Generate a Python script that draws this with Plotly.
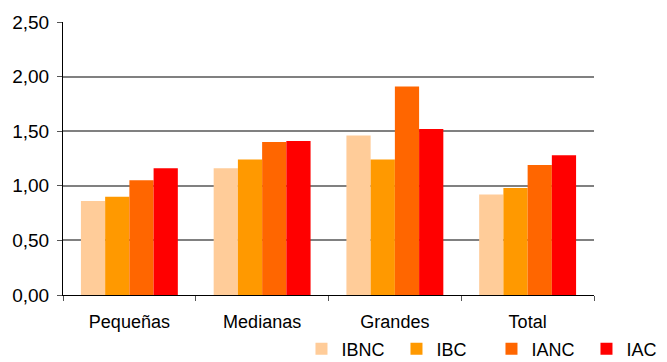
import plotly.graph_objects as go

categories = ["Pequeñas", "Medianas", "Grandes", "Total"]
series_names = ["IBNC", "IBC", "IANC", "IAC"]
ibnc = [0.86, 1.16, 1.46, 0.92]
ibc = [0.90, 1.24, 1.24, 0.98]
ianc = [1.05, 1.40, 1.91, 1.19]
iac = [1.16, 1.41, 1.52, 1.28]
colors = ["#FFCC99", "#FF9900", "#FF6600", "#FF0000"]
y_ticks = [0, 0.5, 1.0, 1.5, 2.0, 2.5]

fig = go.Figure()
for name, vals, col in zip(series_names, [ibnc, ibc, ianc, iac], colors):
    fig.add_trace(go.Bar(x=categories, y=vals, name=name,
                         marker=dict(color=col, line=dict(width=0))))

font_family = "Liberation Sans, Arial, sans-serif"
fig.update_layout(
    width=667, height=362,
    margin=dict(l=63, r=73, t=22, b=67, autoexpand=False),
    paper_bgcolor="white", plot_bgcolor="white",
    barmode="group", bargap=0.27, bargroupgap=0,
    separators=",.",
    font=dict(family=font_family, size=18, color="#000000"),
    showlegend=True,
    legend=dict(orientation="h", xref="container", x=0.452, xanchor="left",
                yref="paper", y=-0.198, yanchor="middle",
                entrywidth=50, entrywidthmode="pixels",
                font=dict(size=18), itemwidth=30, traceorder="normal",
                bgcolor="rgba(0,0,0,0)"),
)
fig.update_xaxes(
    automargin=False,
    showline=True, linecolor="#000000", linewidth=1,
    ticks="outside", tickson="boundaries", ticklen=5, tickcolor="#555555",
    tickfont=dict(size=18), ticklabelstandoff=10, showgrid=False,
)
fig.update_yaxes(
    automargin=False,
    range=[0, 2.5], tickvals=y_ticks, tickformat=".2f",
    showline=True, linecolor="#000000", linewidth=1,
    ticks="outside", ticklen=5, tickcolor="#555555",
    tickfont=dict(size=19), ticklabelstandoff=4,
    showgrid=True, gridcolor="#808080", gridwidth=1.5,
    zeroline=False,
)

fig.write_html("out.html")
